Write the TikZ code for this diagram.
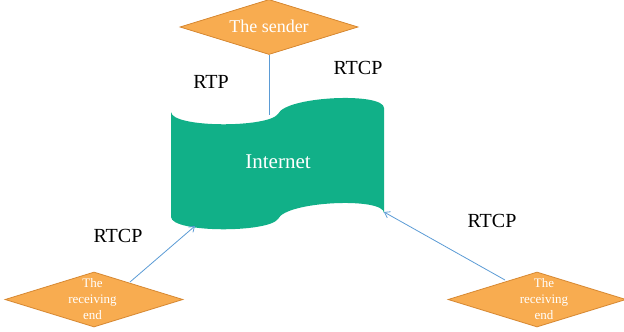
\documentclass[tikz,border=0pt]{standalone}
\usepackage{fontspec}
\setmainfont{Liberation Serif}
\usetikzlibrary{shapes.geometric,arrows.meta}
\definecolor{orfill}{RGB}{248,172,80}
\definecolor{ordraw}{RGB}{214,136,50}
\definecolor{teal2}{RGB}{17,176,136}
\definecolor{lnblue}{RGB}{91,155,213}
\begin{document}
\begin{tikzpicture}[x=1pt,y=-1pt,
  diam/.style={diamond,draw=ordraw,fill=orfill,line width=0.8pt,inner sep=0pt,minimum width=178pt,minimum height=55pt},
  lbl/.style={font=\fontsize{20}{24}\selectfont,text=black},
  wtext/.style={text=white,align=center},
  conn/.style={draw=lnblue,line width=0.8pt},
  arr/.style={conn,-{Straight Barb[length=5pt,width=7pt]}}]
\useasboundingbox (0,0) rectangle (624,332);
% wave
\path[fill=teal2] (171,112) .. controls (172,128) and (268,128) .. (278,114)
   .. controls (286,96) and (384,92) .. (384,108)
   -- (384,213) .. controls (384,197) and (286,201) .. (278,219)
   .. controls (268,233) and (172,233) .. (171,217) -- cycle;
\node[wtext,font=\fontsize{21}{24}\selectfont] (net) at (278,162) {Internet};
\coordinate (wtop) at (269,115);
\coordinate (wbl) at (195,226);
\coordinate (wbr) at (384,212);
% diamonds
\node[diam] (snd) at (269,27) {};
\node[wtext,font=\fontsize{18}{20}\selectfont] (sndt) at (269,26) {The sender};
\node[diam] (rl) at (94,299.5) {};
\node[wtext,font=\fontsize{13}{16}\selectfont] (rlt) at (92.5,299) {The\\receiving\\end};
\node[diam] (rr) at (537,299.5) {};
\node[wtext,font=\fontsize{13}{16}\selectfont] (rrt) at (544,299) {The\\receiving\\end};
% labels
\node[lbl] (l1) at (211,82) {RTP};
\node[lbl] (l2) at (358,68) {RTCP};
\node[lbl] (l3) at (118,236) {RTCP};
\node[lbl] (l4) at (492,221) {RTCP};
% connectors
\draw[conn] (snd.south) -- (wtop);
\draw[arr] (130,282) coordinate (rlc) -- (wbl);
\draw[arr] (505,280) coordinate (rrc) -- (wbr);
\end{tikzpicture}
\end{document}
